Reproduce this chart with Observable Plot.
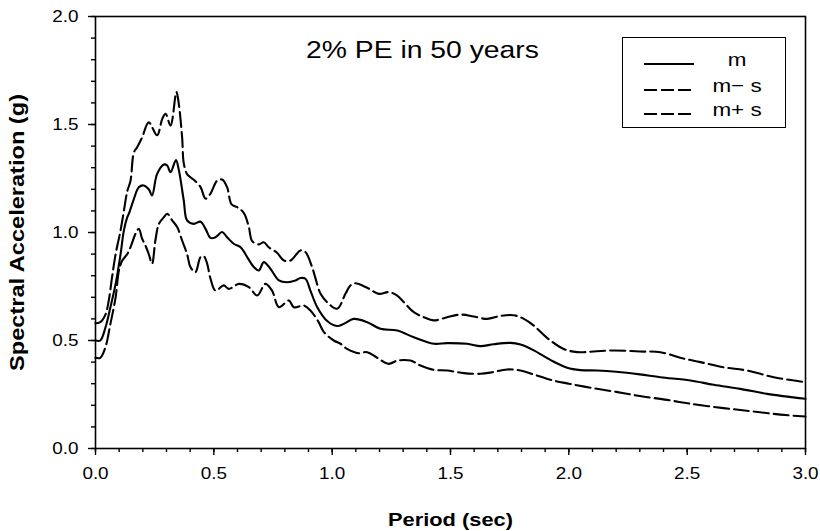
<!DOCTYPE html>
<html><head><meta charset="utf-8">
<script src="https://cdn.jsdelivr.net/npm/d3@7"></script>
<script src="https://cdn.jsdelivr.net/npm/@observablehq/plot@0.6"></script>
<style>
body{margin:0;background:#fff}
#wrap{position:relative;width:820px;height:531px;font-family:"Liberation Sans",Arial,sans-serif;color:#000}
#legend{position:absolute;left:622px;top:37px;width:164px;height:91px;border:1.5px solid #000;box-sizing:border-box;background:#fff}
.row{position:absolute;left:0;width:100%;height:24px}
.row svg{position:absolute;left:20px;top:4px}
.row span{position:absolute;left:114px;transform:translateX(-50%) scaleX(1.18);font-size:19px;line-height:20px;top:0;white-space:pre}
</style></head>
<body>
<div id="wrap"><div id="chart"></div><div id="legend"></div></div>
<script>
// ---- data ----
const titleText = "2% PE in 50 years";
const xLabel = "Period (sec)";
const yLabel = "Spectral Acceleration (g)";
const seriesNames = ["m", "m\u2212 s", "m+ s"];
const xMajor = [0, 0.5, 1, 1.5, 2, 2.5, 3];
const xMinor = d3.range(0, 31).map(i => i / 10);
const yMajor = [0, 0.5, 1, 1.5, 2];
const yMinor = d3.range(0, 21).map(i => i / 10);

const meanPeriod = [0,0.02,0.042,0.063,0.085,0.106,0.12,0.134,0.141,0.162,0.183,0.204,0.225,0.239,0.26,0.289,0.303,0.317,0.34,0.352,0.373,0.387,0.415,0.444,0.465,0.486,0.507,0.535,0.556,0.584,0.613,0.641,0.669,0.69,0.711,0.739,0.775,0.81,0.845,0.866,0.887,0.908,0.937,0.979,1.021,1.049,1.091,1.148,1.204,1.275,1.345,1.429,1.486,1.57,1.627,1.683,1.753,1.796,1.852,1.922,1.993,2.049,2.12,2.2,2.3,2.387,2.514,2.612,2.725,2.838,3.0];
const meanSA = [0.50,0.50,0.56,0.654,0.762,0.90,1.01,1.07,1.087,1.155,1.21,1.218,1.20,1.172,1.27,1.315,1.31,1.279,1.335,1.29,1.148,1.056,1.04,1.05,1.017,0.975,0.978,1.002,0.978,0.948,0.932,0.886,0.84,0.824,0.863,0.832,0.778,0.770,0.778,0.789,0.786,0.731,0.654,0.59,0.567,0.577,0.60,0.585,0.554,0.546,0.515,0.485,0.488,0.485,0.474,0.483,0.489,0.481,0.454,0.41,0.374,0.363,0.361,0.355,0.343,0.33,0.315,0.295,0.276,0.253,0.23];

const upperPeriod = [0,0.02,0.042,0.056,0.07,0.085,0.106,0.12,0.134,0.148,0.162,0.176,0.197,0.225,0.26,0.282,0.296,0.317,0.342,0.352,0.366,0.373,0.387,0.401,0.42,0.444,0.465,0.486,0.514,0.535,0.556,0.575,0.599,0.627,0.648,0.662,0.69,0.711,0.732,0.768,0.796,0.824,0.866,0.887,0.915,0.929,0.951,0.979,1.021,1.056,1.077,1.098,1.148,1.197,1.239,1.275,1.303,1.345,1.387,1.429,1.486,1.542,1.598,1.655,1.711,1.767,1.81,1.852,1.908,1.978,2.035,2.105,2.19,2.3,2.387,2.471,2.556,2.654,2.753,2.866,3.0];
const upperSA = [0.58,0.585,0.62,0.685,0.793,0.90,1.01,1.10,1.19,1.24,1.37,1.395,1.44,1.51,1.45,1.526,1.55,1.495,1.65,1.595,1.44,1.32,1.27,1.256,1.24,1.21,1.157,1.18,1.24,1.245,1.21,1.13,1.117,1.09,1.025,0.96,0.945,0.955,0.932,0.905,0.87,0.87,0.917,0.91,0.84,0.79,0.716,0.677,0.647,0.716,0.755,0.765,0.744,0.716,0.724,0.708,0.677,0.631,0.608,0.593,0.608,0.62,0.611,0.60,0.614,0.617,0.60,0.569,0.512,0.461,0.446,0.449,0.454,0.449,0.446,0.42,0.40,0.376,0.361,0.33,0.307];

const lowerPeriod = [0,0.02,0.042,0.063,0.085,0.099,0.113,0.134,0.148,0.169,0.183,0.197,0.211,0.225,0.239,0.253,0.268,0.289,0.303,0.324,0.345,0.366,0.387,0.401,0.422,0.444,0.458,0.472,0.486,0.507,0.542,0.563,0.606,0.648,0.683,0.718,0.746,0.775,0.817,0.838,0.88,0.908,0.943,0.965,1.007,1.035,1.063,1.112,1.148,1.19,1.239,1.275,1.331,1.373,1.429,1.486,1.556,1.627,1.676,1.739,1.796,1.852,1.922,2.0,2.1,2.2,2.3,2.415,2.514,2.654,2.767,2.894,3.0];
const lowerSA = [0.42,0.42,0.469,0.577,0.70,0.824,0.87,0.90,0.932,0.994,1.017,0.971,0.94,0.90,0.855,0.963,1.04,1.071,1.087,1.056,1.025,0.963,0.90,0.84,0.816,0.886,0.89,0.855,0.786,0.731,0.755,0.739,0.762,0.747,0.708,0.762,0.731,0.654,0.685,0.654,0.662,0.639,0.585,0.539,0.50,0.485,0.461,0.441,0.446,0.42,0.392,0.407,0.407,0.384,0.364,0.361,0.349,0.346,0.353,0.366,0.361,0.343,0.318,0.30,0.28,0.262,0.243,0.225,0.207,0.187,0.173,0.157,0.148];

const series = [
  {name: seriesNames[0], periods: meanPeriod, values: meanSA, dash: null},
  {name: seriesNames[1], periods: lowerPeriod, values: lowerSA, dash: "15,5"},
  {name: seriesNames[2], periods: upperPeriod, values: upperSA, dash: "15,5"}
];
const toRows = s => s.periods.map((p, i) => ({series: s.name, period: p, sa: s.values[i]}));

const fmt = d3.format(".1f");
const chart = Plot.plot({
  width: 820, height: 531,
  marginLeft: 95, marginRight: 15, marginTop: 16, marginBottom: 83,
  style: {fontFamily: '"Liberation Sans", Arial, sans-serif', fontSize: "16px", color: "#000", background: "#fff"},
  x: {domain: [0, 3]},
  y: {domain: [0, 2]},
  marks: [
    Plot.axisX(xMinor, {tickSize: 4, tickFormat: () => "", label: null, strokeWidth: 1.4}),
    Plot.axisX(xMajor, {tickSize: 7, tickPadding: 12, tickFormat: fmt, label: null, strokeWidth: 1.4, fontSize: 16}),
    Plot.axisY(yMinor, {tickSize: 4, tickFormat: () => "", label: null, strokeWidth: 1.4}),
    Plot.axisY(yMajor, {tickSize: 7, tickPadding: 10, tickFormat: fmt, label: null, strokeWidth: 1.4, fontSize: 16}),
    Plot.frame({stroke: "#000", strokeWidth: 1.6}),
    ...series.map(s => Plot.line(toRows(s), {x: "period", y: "sa", stroke: "#000", strokeWidth: 2.1, strokeDasharray: s.dash, curve: "catmull-rom"})),
    Plot.text([xLabel], {frameAnchor: "bottom", lineAnchor: "middle", dy: 72, fontWeight: "bold", fontSize: 18.5}),
    Plot.text([yLabel], {frameAnchor: "left", textAnchor: "middle", lineAnchor: "middle", dx: -78, rotate: -90, fontWeight: "bold", fontSize: 20}),
    Plot.text([titleText], {frameAnchor: "top", lineAnchor: "middle", dx: -28, dy: 34, fontSize: 24})
  ]
});
// widen glyphs to match the reference's broader lettering
const SX = 1.18;
chart.querySelectorAll("text").forEach(t => {
  const tr = t.getAttribute("transform");
  if (tr) t.setAttribute("transform", tr + ` scale(${SX},1)`);
  else {
    const x = +t.getAttribute("x") || 0;
    t.setAttribute("transform", `translate(${x},0) scale(${SX},1) translate(${-x},0)`);
  }
});
document.getElementById("chart").appendChild(chart);

// legend
const legend = document.getElementById("legend");
const rowTops = [12, 38, 62];
series.forEach((s, i) => {
  const row = document.createElement("div");
  row.className = "row";
  row.style.top = rowTops[i] + "px";
  row.innerHTML = `<svg width="52" height="16"><line x1="1" x2="51" y1="10" y2="10" stroke="#000" stroke-width="2" ${s.dash ? 'stroke-dasharray="13,4"' : ""}/></svg><span>${s.name}</span>`;
  legend.appendChild(row);
});
</script>
</body></html>
